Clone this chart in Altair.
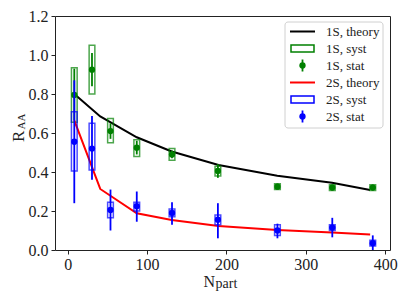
import altair as alt
import pandas as pd

# ---------------- data ----------------
npart = [8.3, 30.6, 53.9, 87.0, 131.4, 189.2, 264.2, 333.3, 384.3]

r1s = [0.795, 0.925, 0.61, 0.525, 0.49, 0.405, 0.325, 0.32, 0.32]
stat1_lo = [0.665, 0.84, 0.57, 0.49, 0.47, 0.37, 0.31, 0.305, 0.305]
stat1_hi = [0.93, 1.01, 0.65, 0.56, 0.51, 0.44, 0.34, 0.335, 0.335]
syst1_lo = [0.655, 0.80, 0.55, 0.48, 0.46, 0.38, 0.31, 0.305, 0.305]
syst1_hi = [0.935, 1.05, 0.675, 0.565, 0.52, 0.43, 0.34, 0.335, 0.335]

r2s = [0.555, 0.52, 0.205, 0.225, 0.19, 0.155, 0.10, 0.115, 0.035]
stat2_lo = [0.24, 0.36, 0.10, 0.145, 0.13, 0.06, 0.06, 0.065, 0.0]
stat2_hi = [0.87, 0.687, 0.31, 0.30, 0.245, 0.24, 0.135, 0.165, 0.075]
syst2_lo = [0.405, 0.41, 0.165, 0.20, 0.17, 0.13, 0.075, 0.10, 0.02]
syst2_hi = [0.709, 0.65, 0.245, 0.245, 0.21, 0.18, 0.13, 0.13, 0.05]

theory_x = [8.3, 41, 87, 131, 190, 264, 333, 381]
theory1 = [0.80, 0.685, 0.578, 0.505, 0.436, 0.381, 0.345, 0.308]
theory2 = [0.665, 0.313, 0.188, 0.154, 0.123, 0.103, 0.09, 0.08]

x_ticks = [0, 100, 200, 300, 400]
y_ticks = [0.0, 0.2, 0.4, 0.6, 0.8, 1.0, 1.2]

legend_labels = ["1S, theory", "1S, syst", "1S, stat", "2S, theory", "2S, syst", "2S, stat"]

# ---------------- styles ----------------
GREEN = "#008000"
BLUE = "#0000ff"
RED = "#ff0000"
BLACK = "#000000"
TXT = "#222222"
FONT = "Liberation Serif"
HALF_W = 3.6
W, H = 335, 234

xscale = alt.Scale(domain=[-16, 406], nice=False, zero=False)
yscale = alt.Scale(domain=[0, 1.2], nice=False, zero=False)


def X(field, **kw):
    return alt.X(field, type="quantitative", scale=xscale, title=None,
                 axis=alt.Axis(values=x_ticks, format="d", labelPadding=2), **kw)


def Y(field, **kw):
    return alt.Y(field, type="quantitative", scale=yscale, title=None,
                 axis=alt.Axis(values=y_ticks, format=".1f", labelPadding=3), **kw)


def meas(vals, slo, shi, ylo, yhi):
    return pd.DataFrame({
        "n": npart, "v": vals, "slo": slo, "shi": shi, "ylo": ylo, "yhi": yhi,
        "xl": [n - HALF_W for n in npart], "xr": [n + HALF_W for n in npart],
    })


d1 = meas(r1s, stat1_lo, stat1_hi, syst1_lo, syst1_hi)
d2 = meas(r2s, stat2_lo, stat2_hi, syst2_lo, syst2_hi)
th = pd.DataFrame({"n": theory_x, "t1": theory1, "t2": theory2})

layers = []


def series_layers(d, color):
    base = alt.Chart(d)
    box = base.mark_rect(fillOpacity=0, stroke=color, strokeWidth=1.5, strokeOpacity=0.7).encode(
        x=X("xl"), x2="xr", y=Y("ylo"), y2="yhi")
    err = base.mark_rule(color=color, strokeWidth=1.8).encode(x=X("n"), y=Y("slo"), y2="shi")
    pts = base.mark_circle(color=color, size=40, opacity=1).encode(x=X("n"), y=Y("v"))
    return [box, err, pts]


layers += [alt.Chart(th).mark_line(color=BLACK, strokeWidth=2).encode(x=X("n"), y=Y("t1"))]
layers += series_layers(d1, GREEN)
layers += [alt.Chart(th).mark_line(color=RED, strokeWidth=2).encode(x=X("n"), y=Y("t2"))]
layers += series_layers(d2, BLUE)

# ---------------- legend (manual) ----------------
one = pd.DataFrame({"a": [0]})
layers.append(alt.Chart(one).mark_rect(fill="white", stroke="#cccccc", strokeWidth=1,
                                       cornerRadius=3, opacity=0.9).encode(
    x=alt.value(230), x2=alt.value(328), y=alt.value(6), y2=alt.value(112)))

row_y = [15.5 + 17 * i for i in range(6)]
kinds = [("line", BLACK), ("box", GREEN), ("stat", GREEN),
         ("line", RED), ("box", BLUE), ("stat", BLUE)]
for (kind, col), yy, lab in zip(kinds, row_y, legend_labels):
    c = alt.Chart(one)
    if kind == "line":
        layers.append(c.mark_rule(color=col, strokeWidth=2).encode(
            x=alt.value(235), x2=alt.value(260), y=alt.value(yy)))
    elif kind == "box":
        layers.append(c.mark_rect(fillOpacity=0, stroke=col, strokeWidth=1.5).encode(
            x=alt.value(236), x2=alt.value(259), y=alt.value(yy - 3.5), y2=alt.value(yy + 3.5)))
    else:
        layers.append(c.mark_rule(color=col, strokeWidth=1.8).encode(
            x=alt.value(247.5), y=alt.value(yy - 6), y2=alt.value(yy + 6)))
        layers.append(c.mark_circle(color=col, size=40, opacity=1).encode(
            x=alt.value(247.5), y=alt.value(yy)))
    layers.append(c.mark_text(align="left", baseline="middle", font=FONT, fontSize=13,
                              color=TXT).encode(
        x=alt.value(271), y=alt.value(yy), text=alt.value(lab)))

# ---------------- axis titles (with subscripts) ----------------
layers.append(alt.Chart(one).mark_text(align="right", baseline="alphabetic", font=FONT,
                                       fontSize=16, color=TXT).encode(
    x=alt.value(160), y=alt.value(270.5), text=alt.value("N")))
layers.append(alt.Chart(one).mark_text(align="left", baseline="alphabetic", font=FONT,
                                       fontSize=14, color=TXT).encode(
    x=alt.value(160.5), y=alt.value(271.5), text=alt.value("part")))
layers.append(alt.Chart(one).mark_text(align="left", baseline="alphabetic", font=FONT,
                                       fontSize=17, angle=270, color=TXT).encode(
    x=alt.value(-31.5), y=alt.value(126), text=alt.value("R")))
layers.append(alt.Chart(one).mark_text(align="left", baseline="alphabetic", font=FONT,
                                       fontSize=11, angle=270, color=TXT).encode(
    x=alt.value(-30.5), y=alt.value(113.5), text=alt.value("AA")))

chart = alt.layer(*layers).properties(
    width=W, height=H,
    autosize=alt.AutoSizeParams(type="none"),
    padding={"left": 47, "top": 8, "right": 8, "bottom": 50},
).configure_view(
    stroke=TXT, strokeWidth=1
).configure_axis(
    grid=False, domain=False, tickColor=TXT, tickSize=4, tickWidth=1,
    labelFont=FONT, labelFontSize=16, labelColor=TXT,
)

chart.save("out.html", embed_options={"renderer": "svg", "actions": False})
